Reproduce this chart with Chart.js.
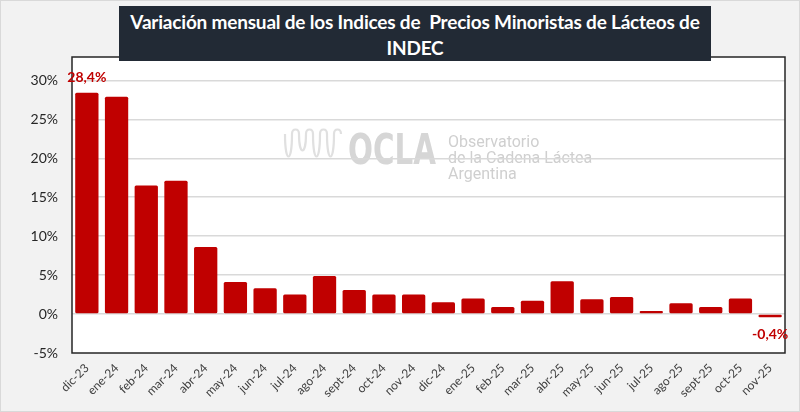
<!DOCTYPE html>
<html>
<head>
<meta charset="utf-8">
<script src="https://cdn.jsdelivr.net/npm/chart.js@4"></script>
<style>
  html, body { margin: 0; padding: 0; background: #f2f2f2; }
  #wrap { position: relative; width: 800px; height: 412px; overflow: hidden; background: #f2f2f2; box-sizing: border-box; border: 1px solid #d9d9d9; }
  #c { position: absolute; left: 0; top: 0; }
  #title { position: absolute; left: 118px; top: 5px; width: 592px; height: 55px; background: #222a35;
    color: #fff; font-family: Lato, "Open Sans", sans-serif; font-weight: bold; font-size: 19px; line-height: 26px;
    text-align: center; box-sizing: border-box; padding-top: 3px; letter-spacing: -0.2px; }
</style>
</head>
<body>
<div id="wrap">
  <canvas id="c" width="800" height="412"></canvas>
  <div id="title">Variación mensual de los Indices de&nbsp; Precios Minoristas de Lácteos de<br>INDEC</div>
</div>
<script>
const categories = ['dic-23','ene-24','feb-24','mar-24','abr-24','may-24','jun-24','jul-24','ago-24','sept-24','oct-24','nov-24',
  'dic-24','ene-25','feb-25','mar-25','abr-25','may-25','jun-25','jul-25','ago-25','sept-25','oct-25','nov-25'];
const variation = [28.4, 27.9, 16.5, 17.1, 8.6, 4.1, 3.3, 2.5, 4.9, 3.1, 2.5, 2.5,
  1.5, 2.0, 0.9, 1.7, 4.2, 1.9, 2.2, 0.4, 1.4, 0.9, 2.0, -0.4];
const labelledPoints = { 0: '28,4%', 23: '-0,4%' };
const yTickMin = -5, yTickMax = 33, yStep = 5;

const framePlugin = {
  id: 'frame',
  beforeDraw(chart) {
    const { ctx, chartArea: a } = chart;
    ctx.save();
    ctx.fillStyle = '#ffffff';
    ctx.fillRect(a.left, a.top, a.right - a.left, a.bottom - a.top);
    // watermark (OCLA logo)
    const wx = a.left + 213, wy = a.top + 77;
    ctx.strokeStyle = '#e0e0e0';
    ctx.lineWidth = 2.2;
    ctx.beginPath();
    ctx.moveTo(wx, wy);
    const step = 7;
    for (let i = 0; i < 8; i++) {
      const x0 = wx + i * step, x1 = x0 + step;
      const down = i % 2 === 0;
      const depth = (i === 0 || i === 4 || i === 6) ? 30 : 22;
      if (down) ctx.bezierCurveTo(x0, wy + depth, x1, wy + depth, x1, wy);
      else ctx.bezierCurveTo(x0, wy - 6, x1, wy - 6, x1, wy);
    }
    ctx.stroke();
    ctx.fillStyle = '#d6d6d6';
    ctx.font = 'bold 42px "DejaVu Sans", sans-serif';
    ctx.textBaseline = 'alphabetic';
    ctx.textAlign = 'left';
    const w = ctx.measureText('OCLA').width;
    ctx.save();
    ctx.translate(a.left + 276, a.top + 107);
    ctx.scale(88 / w, 1);
    ctx.fillText('OCLA', 0, 0);
    ctx.restore();
    ctx.fillStyle = '#cfcfcf';
    ctx.font = '16px Roboto, "Noto Sans", sans-serif';
    ctx.fillText('Observatorio', a.left + 376, a.top + 90);
    ctx.fillText('de la Cadena Láctea', a.left + 376, a.top + 106);
    ctx.fillText('Argentina', a.left + 376, a.top + 122);
    ctx.restore();
  },
  afterDraw(chart) {
    const { ctx, chartArea: a } = chart;
    ctx.save();
    ctx.strokeStyle = '#262626';
    ctx.lineWidth = 1.5;
    ctx.strokeRect(a.left, a.top, a.right - a.left, a.bottom - a.top);
    // data labels
    const meta = chart.getDatasetMeta(0);
    ctx.font = 'bold 14px Lato, "Open Sans", sans-serif';
    ctx.fillStyle = '#c00000';
    ctx.textAlign = 'center';
    ctx.textBaseline = 'middle';
    Object.keys(labelledPoints).forEach(k => {
      const el = meta.data[+k];
      const v = variation[+k];
      const y = v >= 0 ? el.y - 15 : el.y + 17;
      ctx.fillText(labelledPoints[k], el.x, y);
    });
    ctx.restore();
  }
};

new Chart(document.getElementById('c'), {
  type: 'bar',
  data: {
    labels: categories,
    datasets: [{
      data: variation,
      backgroundColor: '#c00000',
      borderWidth: 0,
      borderRadius: 1.5,
      borderSkipped: false,
      categoryPercentage: 0.8,
      barPercentage: 0.98
    }]
  },
  options: {
    responsive: false,
    animation: false,
    devicePixelRatio: 1,
    layout: { padding: { left: 0, right: 16, top: 56, bottom: 0 } },
    plugins: { legend: { display: false }, title: { display: false }, tooltip: { enabled: false } },
    scales: {
      x: {
        grid: { display: false, drawTicks: false },
        border: { display: false },
        ticks: { minRotation: 45, maxRotation: 45, padding: 8, color: '#404040', autoSkip: false,
          font: { family: 'Lato, "Open Sans", sans-serif', size: 12 } },
        afterFit(s) { s.height = 60; }
      },
      y: {
        min: yTickMin, max: yTickMax,
        grid: {
          drawTicks: false,
          color: ctx => (ctx.tick && ctx.tick.value % yStep === 0 && ctx.tick.value > yTickMin) ? '#d9d9d9' : 'rgba(0,0,0,0)',
          lineWidth: 1.5
        },
        border: { display: false },
        ticks: {
          stepSize: yStep, padding: 14, color: '#262626',
          font: { family: 'Lato, "Open Sans", sans-serif', size: 14 },
          callback: v => (v % yStep === 0 ? v + '%' : '')
        },
        afterFit(s) { s.width = 71; }
      }
    }
  },
  plugins: [framePlugin]
});
</script>
</body>
</html>
